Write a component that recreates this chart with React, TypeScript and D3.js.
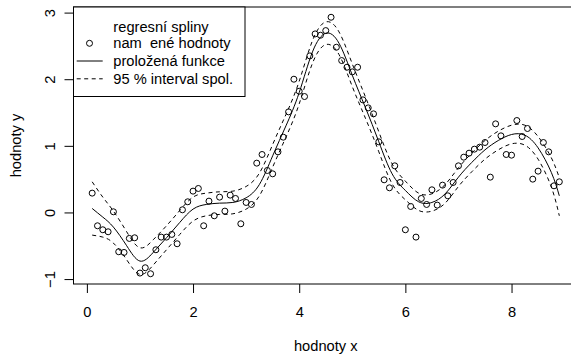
import { useRef, useEffect } from 'react';
import * as d3 from 'd3';

// measured points (x step 0.1)
const pointX = [
  0.1, 0.2, 0.3, 0.4, 0.5, 0.6, 0.7, 0.8, 0.9, 1.0,
  1.1, 1.2, 1.3, 1.4, 1.5, 1.6, 1.7, 1.8, 1.9, 2.0,
  2.1, 2.2, 2.3, 2.4, 2.5, 2.6, 2.7, 2.8, 2.9, 3.0,
  3.1, 3.2, 3.3, 3.4, 3.5, 3.6, 3.7, 3.8, 3.9, 4.0,
  4.1, 4.2, 4.3, 4.4, 4.5, 4.6, 4.7, 4.8, 4.9, 5.0,
  5.1, 5.2, 5.3, 5.4, 5.5, 5.6, 5.7, 5.8, 5.9, 6.0,
  6.1, 6.2, 6.3, 6.4, 6.5, 6.6, 6.7, 6.8, 6.9, 7.0,
  7.1, 7.2, 7.3, 7.4, 7.5, 7.6, 7.7, 7.8, 7.9, 8.0,
  8.1, 8.2, 8.3, 8.4, 8.5, 8.6, 8.7, 8.8, 8.9,
];
const pointY = [
  0.29, -0.2, -0.26, -0.29, 0.01, -0.59, -0.6, -0.39, -0.38, -0.91,
  -0.83, -0.92, -0.56, -0.37, -0.37, -0.33, -0.47, 0.04, 0.16, 0.32,
  0.36, -0.2, 0.17, -0.05, 0.23, 0.02, 0.26, 0.21, -0.17, 0.15,
  0.12, 0.74, 0.87, 0.63, 0.58, 0.91, 1.13, 1.51, 2.0, 1.82,
  1.74, 2.35, 2.68, 2.66, 2.73, 2.93, 2.48, 2.28, 2.18, 2.11,
  2.18, 1.69, 1.57, 1.48, 1.06, 0.49, 0.37, 0.7, 0.45, -0.26,
  0.09, -0.37, 0.21, 0.12, 0.34, 0.11, 0.41, 0.25, 0.45, 0.7,
  0.83, 0.89, 0.95, 0.98, 1.05, 0.53, 1.33, 1.15, 0.87, 0.86,
  1.38, 1.14, 1.26, 0.5, 0.62, 1.05, 0.91, 0.4, 0.46,
];

// fitted spline and 95 % band
const fitX = [
  0.1, 0.3, 0.5, 0.75, 1.0, 1.25, 1.5, 1.75, 2.0, 2.25, 2.5, 2.75, 3.0,
  3.25, 3.5, 3.75, 4.0, 4.25, 4.5, 4.75, 5.0, 5.25, 5.5, 5.75, 6.0,
  6.25, 6.5, 6.75, 7.0, 7.25, 7.5, 7.75, 8.0, 8.25, 8.5, 8.75, 8.9,
];
const fitY = [
  0.06, -0.07, -0.22, -0.5, -0.73, -0.6, -0.38, -0.15, 0.05, 0.12, 0.14, 0.15, 0.22,
  0.42, 0.85, 1.3, 1.8, 2.41, 2.69, 2.54, 2.06, 1.57, 1.06, 0.58, 0.33,
  0.16, 0.15, 0.28, 0.53, 0.75, 0.94, 1.08, 1.17, 1.16, 0.97, 0.6, 0.25,
];
const upperY = [
  0.46, 0.23, 0.02, -0.29, -0.53, -0.41, -0.2, 0.03, 0.23, 0.29, 0.31, 0.32, 0.39,
  0.59, 1.02, 1.47, 1.97, 2.58, 2.86, 2.71, 2.23, 1.73, 1.21, 0.73, 0.47,
  0.29, 0.28, 0.42, 0.67, 0.89, 1.08, 1.22, 1.31, 1.31, 1.14, 0.82, 0.52,
];
const lowerY = [
  -0.34, -0.37, -0.46, -0.71, -0.93, -0.79, -0.56, -0.33, -0.13, -0.05, -0.03, -0.02, 0.05,
  0.25, 0.68, 1.13, 1.63, 2.24, 2.52, 2.37, 1.89, 1.41, 0.91, 0.43, 0.19,
  0.03, 0.02, 0.14, 0.39, 0.61, 0.8, 0.94, 1.03, 1.01, 0.8, 0.38, -0.05,
];

const xTicks = [0, 2, 4, 6, 8];
const yTicks = [-1, 0, 1, 2, 3];
const xTitle = 'hodnoty x';
const yTitle = 'hodnoty y';
const legendTitle = 'regresní spliny';
const legendLabels = ['nam  ené hodnoty', 'proložená funkce', '95 % interval spol.'];

export default function App() {
  const svgRef = useRef<SVGSVGElement>(null);

  useEffect(() => {
    const svg = d3.select(svgRef.current);
    svg.selectAll('*').remove();

    const font = "'Liberation Sans', Arial, Helvetica, sans-serif";
    const fs = 14.67;
    const lineH = 17.6;
    const box = { left: 73.5, top: 7, right: 578, bottom: 284 };
    const dash = '4,3.5';

    // R style: data range plus 4 % each side
    const [x0, x1] = d3.extent(pointX) as [number, number];
    const [y0, y1] = d3.extent(pointY) as [number, number];
    const xPad = (x1 - x0) * 0.04;
    const yPad = (y1 - y0) * 0.04;
    const x = d3.scaleLinear().domain([x0 - xPad, x1 + xPad]).range([box.left, box.right]);
    const y = d3.scaleLinear().domain([y0 - yPad, y1 + yPad]).range([box.bottom, box.top]);

    svg.append('rect').attr('width', 571).attr('height', 356).attr('fill', '#fff');

    const idx = d3.range(fitX.length);
    const mkLine = (vals: number[]) =>
      d3.line<number>()
        .x((i) => x(fitX[i]))
        .y((i) => y(vals[i]))
        .curve(d3.curveNatural)(idx);

    // band
    [upperY, lowerY].forEach((vals) => {
      svg.append('path')
        .attr('d', mkLine(vals))
        .attr('fill', 'none')
        .attr('stroke', '#000')
        .attr('stroke-width', 1)
        .attr('stroke-dasharray', dash);
    });

    // fit
    svg.append('path')
      .attr('d', mkLine(fitY))
      .attr('fill', 'none')
      .attr('stroke', '#000')
      .attr('stroke-width', 1);

    // points
    svg.append('g')
      .selectAll('circle')
      .data(pointX)
      .join('circle')
      .attr('cx', (d) => x(d))
      .attr('cy', (_d, i) => y(pointY[i]))
      .attr('r', 3)
      .attr('fill', 'none')
      .attr('stroke', '#000')
      .attr('stroke-width', 1);

    // frame
    svg.append('rect')
      .attr('x', box.left)
      .attr('y', box.top)
      .attr('width', box.right - box.left)
      .attr('height', box.bottom - box.top)
      .attr('fill', 'none')
      .attr('stroke', '#000');

    // x axis
    svg.append('g')
      .attr('transform', `translate(0,${box.bottom})`)
      .call(d3.axisBottom(x).tickValues(xTicks).tickSize(9).tickPadding(13.6).tickFormat((d) => String(d)))
      .call((g) => g.select('.domain').remove())
      .call((g) => g.selectAll('.tick line').attr('stroke', '#000'))
      .call((g) =>
        g.selectAll('.tick text')
          .attr('fill', '#000')
          .attr('font-size', fs)
          .attr('font-family', font),
      );

    // y axis, labels rotated like R
    svg.append('g')
      .attr('transform', `translate(${box.left},0)`)
      .call(
        d3.axisLeft(y).tickValues(yTicks).tickSize(9)
          .tickFormat((d) => (Number(d) < 0 ? `\u2212${Math.abs(Number(d))}` : String(d))),
      )
      .call((g) => g.select('.domain').remove())
      .call((g) => g.selectAll('.tick line').attr('stroke', '#000'))
      .call((g) =>
        g.selectAll('.tick text')
          .attr('x', null)
          .attr('dy', null)
          .attr('transform', `translate(${-lineH - 1},0) rotate(-90)`)
          .attr('text-anchor', 'middle')
          .attr('fill', '#000')
          .attr('font-size', fs)
          .attr('font-family', font),
      );

    // axis titles
    svg.append('text')
      .attr('x', (box.left + box.right) / 2)
      .attr('y', 351)
      .attr('text-anchor', 'middle')
      .attr('font-size', fs)
      .attr('font-family', font)
      .text(xTitle);

    svg.append('text')
      .attr('transform', `translate(${box.left - 3 * lineH},${(box.top + box.bottom) / 2}) rotate(-90)`)
      .attr('text-anchor', 'middle')
      .attr('font-size', fs)
      .attr('font-family', font)
      .text(yTitle);

    // legend
    const lg = svg.append('g');
    lg.append('rect')
      .attr('x', box.left)
      .attr('y', box.top)
      .attr('width', 245 - box.left)
      .attr('height', 96.5 - box.top)
      .attr('fill', '#fff')
      .attr('stroke', '#000');

    lg.append('text')
      .attr('x', 161)
      .attr('y', 31.5)
      .attr('text-anchor', 'middle')
      .attr('font-size', fs)
      .attr('font-family', font)
      .text(legendTitle);

    const rowBase = [48.2, 66, 83.8];
    legendLabels.forEach((lab, i) => {
      lg.append('text')
        .attr('x', 113.3)
        .attr('y', rowBase[i])
        .attr('font-size', fs)
        .attr('font-family', font)
        .attr('xml:space', 'preserve')
        .style('white-space', 'pre')
        .text(lab);
    });
    lg.append('circle')
      .attr('cx', 89.5)
      .attr('cy', rowBase[0] - 4.9)
      .attr('r', 3)
      .attr('fill', 'none')
      .attr('stroke', '#000');
    lg.append('line')
      .attr('x1', 76.7).attr('x2', 102.7)
      .attr('y1', rowBase[1] - 5).attr('y2', rowBase[1] - 5)
      .attr('stroke', '#000');
    lg.append('line')
      .attr('x1', 76.7).attr('x2', 102.7)
      .attr('y1', rowBase[2] - 5).attr('y2', rowBase[2] - 5)
      .attr('stroke', '#000')
      .attr('stroke-dasharray', dash);
  }, []);

  return (
    <svg
      ref={svgRef}
      width={571}
      height={356}
      viewBox="0 0 571 356"
      style={{ position: 'absolute', left: 0, top: 0, display: 'block' }}
    />
  );
}
